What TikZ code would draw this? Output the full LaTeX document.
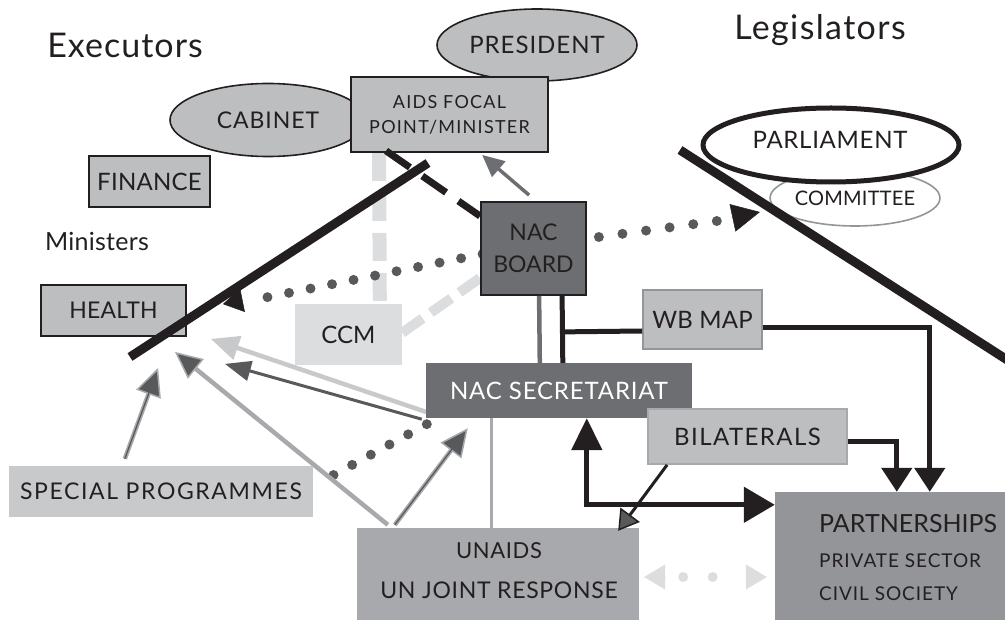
\documentclass[tikz,border=0pt]{standalone}
\usepackage{fontspec}
\setmainfont{Lato}
\usetikzlibrary{arrows.meta,calc,shapes.geometric}
\definecolor{lgray}{HTML}{BCBEC0}
\definecolor{spgray}{HTML}{C8C9CB}
\definecolor{vlgray}{HTML}{DCDDDE}
\definecolor{mgray}{HTML}{A7A9AC}
\definecolor{pgray}{HTML}{939598}
\definecolor{dgray}{HTML}{6D6E71}
\definecolor{dotgray}{HTML}{58595B}
\definecolor{ink}{HTML}{231F20}
\newcommand\fsz[1]{\fontsize{#1}{#1}\selectfont}
\newcommand\lsp[1]{\addfontfeature{LetterSpace=#1}}
\pgfdeclarelayer{back}
\pgfsetlayers{back,main}
\begin{document}
\begin{tikzpicture}[x=1pt,y=-1pt,
  box/.style={rectangle, draw=ink, line width=1.8pt, fill=lgray, inner sep=0pt, text=ink, align=center},
  flat/.style={rectangle, draw=none, inner sep=0pt, text=ink, align=center},
  oval/.style={ellipse, draw=ink, line width=1.6pt, fill=lgray, inner sep=0pt, text=ink},
  lbl/.style={inner sep=0pt, text=ink},
  sepline/.style={ink, line width=9pt},
  bigdots/.style={dotgray, line width=10pt, line cap=round},
  corearrow/.style={mgray, line width=4.5pt, -{Triangle[length=28pt,width=26pt,fill=dotgray,line width=1.5pt]}},
  coreline/.style={dotgray, line width=1.3pt, shorten >=26pt},
  blk/.style={ink, line width=5pt},
]
\useasboundingbox (0,0) rectangle (1005,620);
\clip (0,0) rectangle (1005,620);

% ---- titles
\node[lbl, font={\fsz{34}\lsp{3}}] (exec) at (125,45) {Executors};
\node[lbl, font={\fsz{34}\lsp{4}}] (legis) at (820,30) {Legislators};
\node[lbl, font={\fsz{25}\lsp{1}}] (minis) at (97,241) {Ministers};

% ---- ellipses
\node[oval, minimum width=200pt, minimum height=72pt, font={\fsz{24}\lsp{4}}] (pres) at (537,45) {PRESIDENT};
\node[oval, minimum width=196pt, minimum height=73pt, font={\fsz{23}\lsp{4}}] (cab) at (268,120) {CABINET};
\node[oval, fill=white, draw=pgray, line width=1.6pt, minimum width=160pt, minimum height=56pt, font={\fsz{20}\lsp{1}}] (comm) at (855,198) {COMMITTEE};
\node[oval, fill=white, line width=5pt, minimum width=256pt, minimum height=74pt] (parl) at (831,145) {};
\node[lbl, font={\fsz{24}\lsp{3}}] (parltxt) at (830,140) {PARLIAMENT};

% ---- boxes
\node[box, minimum width=197pt, minimum height=75pt, font={\fsz{18}\lsp{7}}] (aids) at (449.5,114.5) {AIDS FOCAL\\[7pt]POINT/MINISTER};
\node[box, minimum width=121pt, minimum height=51pt, font={\fsz{24}\lsp{1}}] (fin) at (149.5,181.5) {FINANCE};
\node[box, minimum width=145pt, minimum height=51pt, font={\fsz{23}\lsp{1}}] (health) at (113.5,310.5) {HEALTH};
\node[flat, fill=vlgray, minimum width=107pt, minimum height=61pt, font=\fsz{24}] (ccm) at (348.5,334.5) {CCM};
\node[box, fill=dgray, minimum width=105pt, minimum height=93pt, font=\fsz{23}] (nacb) at (533.5,248.5) {NAC\\[9pt]BOARD};
\node[flat, fill=dgray, text=white, minimum width=266pt, minimum height=55pt, font={\fsz{24}\lsp{3.5}}] (nacs) at (559,390.5) {NAC SECRETARIAT};
\node[box, draw=pgray, minimum width=119pt, minimum height=59pt, font={\fsz{24}\lsp{1}}] (wb) at (702.5,319.5) {WB MAP};
\node[box, draw=mgray, minimum width=199pt, minimum height=55pt, font={\fsz{24}\lsp{6}}] (bil) at (747.5,436.5) {BILATERALS};
\node[flat, fill=mgray, minimum width=282pt, minimum height=92pt] (unaids) at (498,574) {};
\node[lbl, anchor=base, font={\fsz{22}\lsp{3}}] (un1) at (499,558) {UNAIDS};
\node[lbl, anchor=base, font={\fsz{23}\lsp{3}}] (un2) at (499,598) {UN JOINT RESPONSE};
\node[flat, fill=pgray, minimum width=240pt, minimum height=133pt] (part) at (895,558.5) {};
\node[lbl, anchor=base west, font=\fsz{25}] (pt1) at (819,532) {PARTNERSHIPS};
\node[lbl, anchor=base west, font={\fsz{19}\lsp{5}}] (pt2) at (819,567) {PRIVATE SECTOR};
\node[lbl, anchor=base west, font={\fsz{19}\lsp{5}}] (pt3) at (819,600) {CIVIL SOCIETY};
\node[flat, fill=spgray, minimum width=304pt, minimum height=51pt, font={\fsz{23}\lsp{7}}] (spec) at (161,491.5) {SPECIAL PROGRAMMES};

% ---- connectors behind boxes
\begin{pgfonlayer}{back}
\draw[vlgray, line width=14pt, dash pattern=on 28pt off 12pt] ($(aids.south west)+(29,0)$) -- ($(ccm.north west)+(85,0)$);
\draw[vlgray, line width=10pt, dash pattern=on 25pt off 10pt] ($(ccm.north east)+(0,29)$) -- ($(nacb.south west)+(0,-18)$);
% NAC board -> health (dotted)
\coordinate (hd) at ($(health.north east)+(61,17)$);
\draw[bigdots, dash pattern=on 0pt off 21.94pt] ($(nacb.west)+(2.5,5.5)$) -- (hd);
\draw[ink, line width=0.5pt, -{Triangle[length=20pt,width=24pt]}] ($(hd)+(-5,-1)$) -- ($(hd)+(-25,3)$);
% NAC board -> legislators (dotted)
\coordinate (cd) at ($(nacb.east)+(130,-27.5)$);
\draw[bigdots, dash pattern=on 0pt off 23.8pt] ($(nacb.east)+(-11.6,-8.3)$) -- (cd);
\draw[ink, line width=0.5pt, -{Triangle[length=28pt,width=28pt]}] ($(cd)+(15,-3)$) -- ($(cd)+(43,-9)$);
% secretariat -> special programmes (dotted)
\draw[bigdots, dash pattern=on 0pt off 21.25pt] ($(nacs.south west)+(1,6)$) -- ($(spec.east)+(2,-6.5)$);
% secretariat -> unaids
\draw[mgray, line width=3pt] ($(nacs.south west)+(66,0)$) -- ($(unaids.north west)+(135,0)$);
% arrows toward ministers
\draw[spgray, line width=4.5pt, -{Triangle[length=28pt,width=24pt]}] ($(nacs.south west)+(1,-6)$) -- ($(health.south east)+(24,2)$);
\draw[dotgray, line width=3pt, -{Triangle[length=26pt,width=20pt]}] ($(nacs.south west)+(-4,1)$) -- ($(health.south east)+(38,27)$);
\draw[mgray, line width=4.5pt, -{Triangle[length=27pt,width=25pt,fill=dotgray,line width=1.5pt]}] ($(unaids.north west)+(31,-3)$) -- ($(health.south east)+(-12,15)$);
\draw[corearrow] ($(unaids.north west)+(38,-3)$) -- ($(nacs.south west)+(42,10)$);
\draw[coreline] ($(unaids.north west)+(38,-3)$) -- ($(nacs.south west)+(42,10)$);
\draw[corearrow] ($(spec.north west)+(116,-7)$) -- ($(health.south west)+(118,31)$);
\draw[coreline] ($(spec.north west)+(116,-7)$) -- ($(health.south west)+(118,31)$);
\end{pgfonlayer}

% ---- connectors in front
\draw[ink, line width=7pt, dash pattern=on 29pt off 15pt] ($(aids.south west)+(36,-2)$) -- ($(nacb.north west)+(0,15)$);
\draw[dgray, line width=3.5pt, -{Triangle[length=22pt,width=20pt]}] ($(nacb.north west)+(49,-6)$) -- ($(aids.south west)+(132,2)$);
\draw[dgray, line width=4.5pt] ($(nacb.south west)+(59,0)$) -- ($(nacs.north west)+(114,0)$);
\draw[blk] ($(nacb.south west)+(82,0)$) -- ($(nacs.north west)+(137,0)$);
\draw[blk] ($(nacb.south west)+(82,36)$) -- ($(wb.west)+(0,11.5)$);
\draw[blk, -{Triangle[length=24pt,width=30pt]}] ($(wb.east)+(0,8.5)$) -| ($(part.north west)+(155,0)$);
\draw[blk, -{Triangle[length=24pt,width=30pt]}] ($(bil.east)+(0,5.5)$) -| ($(part.north west)+(122,0)$);
\draw[blk, {Triangle[length=32pt,width=30pt]}-{Triangle[length=31pt,width=35pt]}] ($(nacs.south west)+(161,0)$) |- ($(part.north west)+(0,13)$);
\draw[ink, line width=3pt, -{Triangle[length=20pt,width=24pt,fill=dotgray,line width=1.5pt]}] ($(bil.south west)+(20,0)$) -- ($(unaids.north east)+(-21,3)$);
% unaids <-> partnerships (light)
\draw[vlgray, line width=10pt, line cap=round, dash pattern=on 0pt off 29.5pt] ($(unaids.east)+(44,3)$) -- ($(part.west)+(-33,18.5)$);
\draw[vlgray, line width=0.5pt, -{Triangle[length=21pt,width=25pt]}] ($(unaids.east)+(26,3)$) -- ($(unaids.east)+(5,3)$);
\draw[vlgray, line width=0.5pt, -{Triangle[length=21pt,width=25pt]}] ($(part.west)+(-29,18.5)$) -- ($(part.west)+(-8,18.5)$);

% ---- thick separator lines
\draw[sepline] (428,163) -- (130,357);
\draw[sepline] (680,150) -- (1012,363);
\end{tikzpicture}
\end{document}
